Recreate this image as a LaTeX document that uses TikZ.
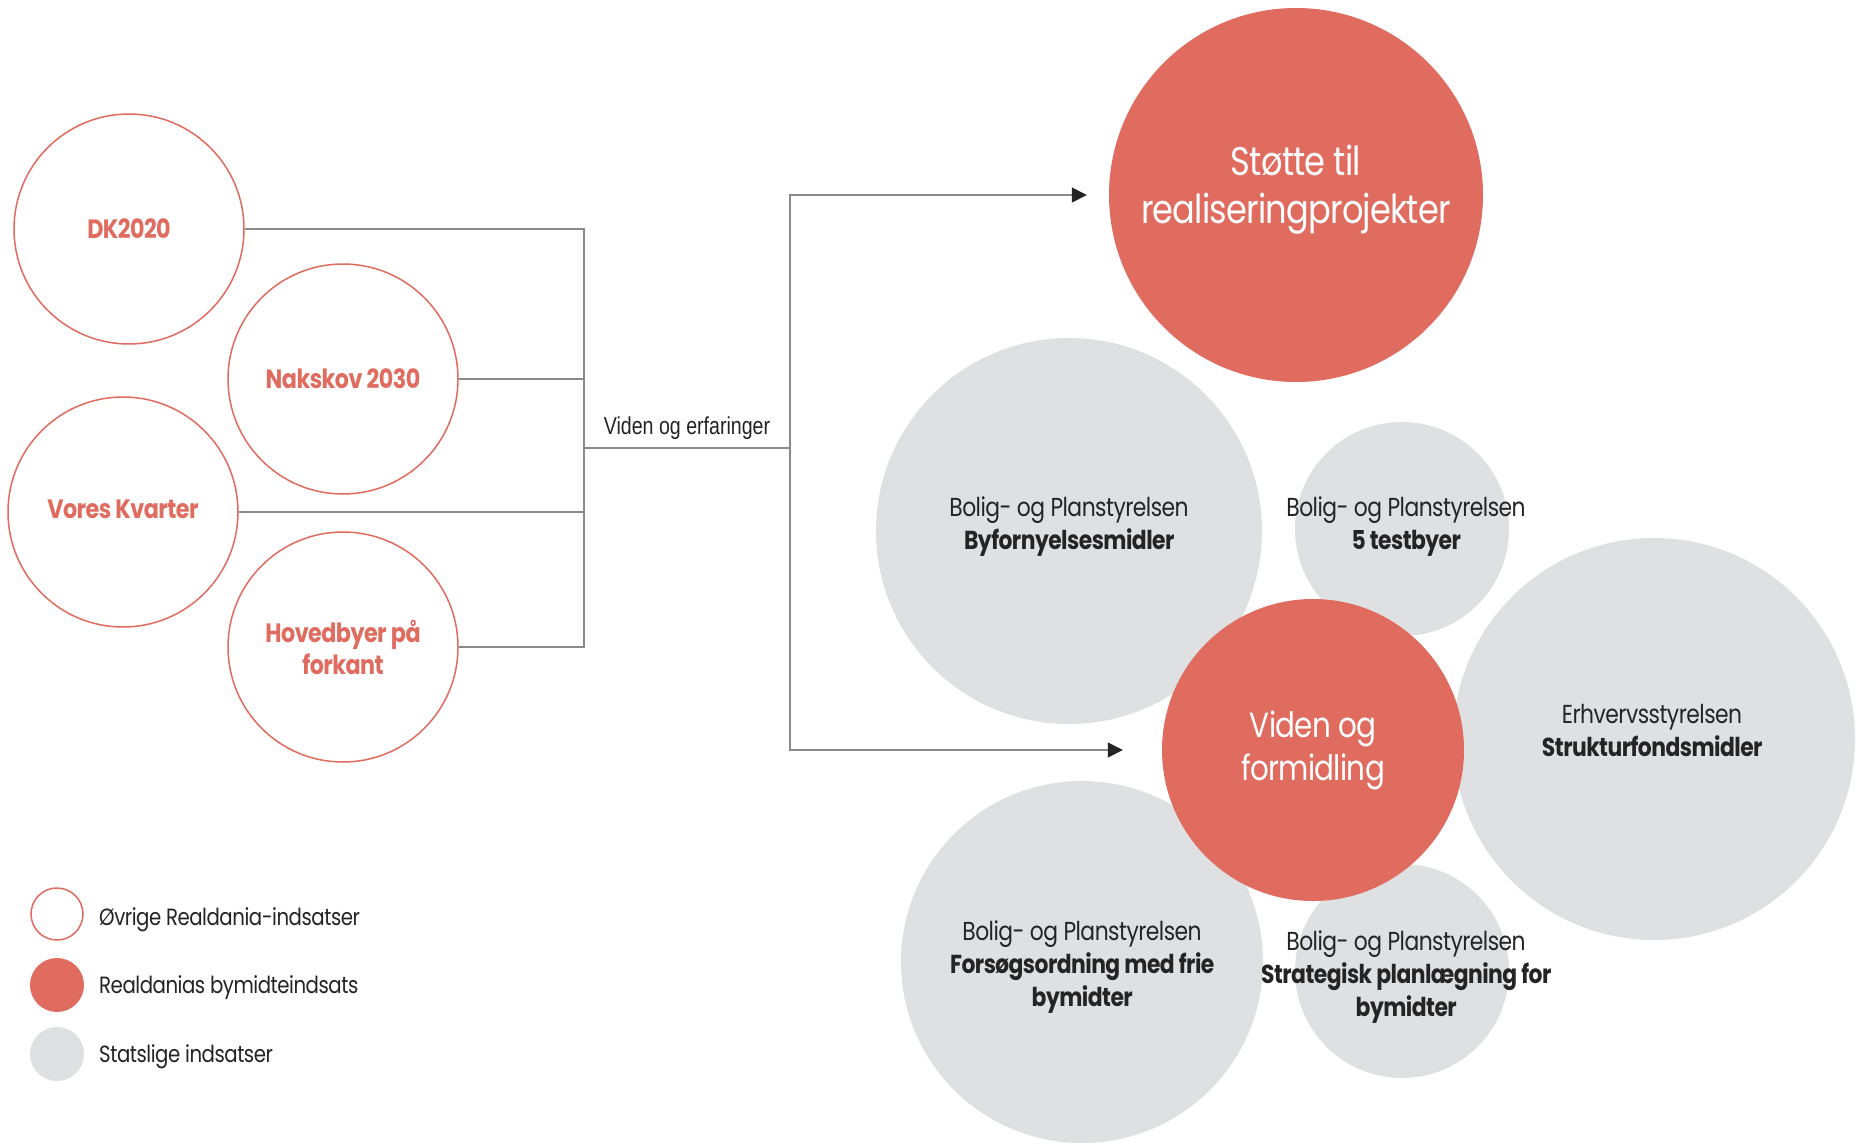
\documentclass[tikz,border=0pt]{standalone}
\usepackage{fontspec}
\setmainfont{Poppins}[FakeStretch=0.84,LetterSpace=-2]
\newfontfamily\labfont{Liberation Sans}[FakeStretch=0.8]
\usetikzlibrary{arrows.meta}
\definecolor{rd}{HTML}{E06B5F}
\definecolor{gr}{HTML}{DFE0E2}
\definecolor{tx}{HTML}{242424}
\definecolor{ln}{HTML}{8A8A8A}
\begin{document}
\begin{tikzpicture}[x=1pt,y=-1pt,
  open/.style={circle,draw=rd,line width=1.5pt,fill=white,inner sep=0pt,text=rd,align=center,font=\fontsize{26.5}{32}\selectfont\bfseries},
  redc/.style={circle,fill=rd,inner sep=0pt,text=white,align=center},
  grayc/.style={circle,fill=gr,inner sep=0pt},
  gtext/.style={text=tx,align=center,font=\fontsize{26}{33}\selectfont,inner sep=0pt},
  conn/.style={draw=ln,line width=1.4pt},
  arr/.style={conn,-{Triangle[length=15,width=15,color=tx]}},
  legt/.style={text=tx,anchor=west,font=\fontsize{23.5}{26}\selectfont,inner sep=0pt}]
\useasboundingbox[fill=white] (0,0) rectangle (1857,1146);
% left circles
\node[open,minimum size=230] (dk) at (129,229) {DK2020};
\node[open,minimum size=230] (nak) at (343,379) {Nakskov 2030};
\node[open,minimum size=230] (vor) at (123,512) {\raisebox{5pt}{Vores Kvarter}};
\node[open,minimum size=230] (hov) at (343,647) {Hovedbyer på\\forkant};
% connectors
\coordinate (bus) at (584,448);
\coordinate (split) at (790,448);
\draw[conn] (dk.east) -- (dk.east -| bus) -- (hov.east -| bus) -- (hov.east);
\draw[conn] (nak.east) -- (nak.east -| bus);
\draw[conn] (vor.east) -- (vor.east -| bus);
\draw[conn] (bus) -- node[above=8pt,text=tx,font=\labfont\fontsize{24.5}{28}\selectfont,inner sep=0pt] (lab) {Viden og erfaringer} (split);
% gray circles
\node[grayc,minimum size=386] (byf) at (1069,531) {};
\node[grayc,minimum size=214] (tst) at (1402,529) {};
\node[grayc,minimum size=402] (erh) at (1654,739) {};
\node[grayc,minimum size=362] (fors) at (1082,962) {};
\node[grayc,minimum size=214] (strat) at (1402,971) {};
% red circles
\node[redc,minimum size=374] (st) at (1296,195) {};
\node[text=white,align=center,inner sep=0pt,font=\fontsize{40}{48}\selectfont] (stt) at (1296,190) {Støtte til\\realiseringprojekter};
\node[redc,minimum size=302,font=\fontsize{35}{43}\selectfont] (vf) at (1313,750) {Viden og\\formidling};
% gray texts
\node[gtext] at (1069,527) {Bolig- og Planstyrelsen\\\textbf{Byfornyelsesmidler}};
\node[gtext] at (1406,527) {Bolig- og Planstyrelsen\\\textbf{5 testbyer}};
\node[gtext] at (1652,730) {Erhvervsstyrelsen\\\textbf{Strukturfondsmidler}};
\node[gtext] at (1082,967) {Bolig- og Planstyrelsen\\\textbf{Forsøgsordning med frie}\\\textbf{bymidter}};
\node[gtext] at (1406,977) {Bolig- og Planstyrelsen\\\textbf{Strategisk planlægning for}\\\textbf{bymidter}};
% arrows
\draw[arr] (split) |- ([xshift=-22]st.west);
\draw[arr] (split) |- ([xshift=-39]vf.west);
% legend
\node[circle,draw=rd,line width=1.5pt,minimum size=52,inner sep=0pt] (l1) at (57,914) {};
\node[circle,fill=rd,minimum size=54,inner sep=0pt] (l2) at (57,985) {};
\node[circle,fill=gr,minimum size=54,inner sep=0pt] (l3) at (57,1054) {};
\node[legt] (t1) at (99,920) {Øvrige Realdania-indsatser};
\node[legt] (t2) at (99,988) {Realdanias bymidteindsats};
\node[legt] (t3) at (99,1057) {Statslige indsatser};
\end{tikzpicture}
\end{document}
